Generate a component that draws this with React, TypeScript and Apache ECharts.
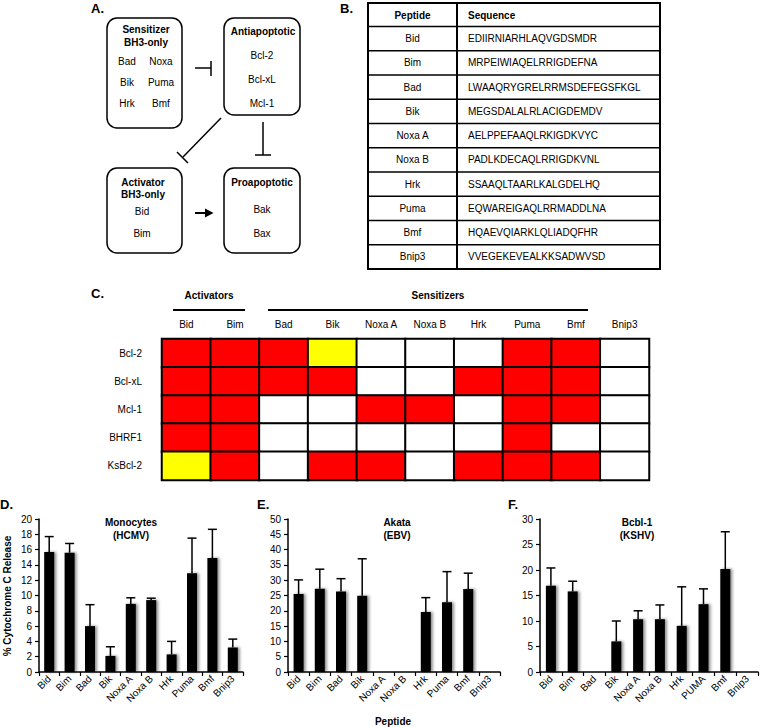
import React, { useEffect, useRef } from "react";
import * as echarts from "echarts";

const FONT = '"Liberation Sans", Arial, Helvetica, sans-serif';

// ---- Panel B table ----
const peptides = ["Bid", "Bim", "Bad", "Bik", "Noxa A", "Noxa B", "Hrk", "Puma", "Bmf", "Bnip3"];
const sequences = [
  "EDIIRNIARHLAQVGDSMDR",
  "MRPEIWIAQELRRIGDEFNA",
  "LWAAQRYGRELRRMSDEFEGSFKGL",
  "MEGSDALALRLACIGDEMDV",
  "AELPPEFAAQLRKIGDKVYC",
  "PADLKDECAQLRRIGDKVNL",
  "SSAAQLTAARLKALGDELHQ",
  "EQWAREIGAQLRRMADDLNA",
  "HQAEVQIARKLQLIADQFHR",
  "VVEGEKEVEALKKSADWVSD",
];

// ---- Panel C heatmap (0 = no binding, 1 = binding, 2 = weak) ----
const hmCols = ["Bid", "Bim", "Bad", "Bik", "Noxa A", "Noxa B", "Hrk", "Puma", "Bmf", "Bnip3"];
const hmRows = ["Bcl-2", "Bcl-xL", "Mcl-1", "BHRF1", "KsBcl-2"];
const hmValues = [
  [1, 1, 1, 2, 0, 0, 0, 1, 1, 0],
  [1, 1, 1, 1, 0, 0, 1, 1, 1, 0],
  [1, 1, 0, 0, 1, 1, 0, 1, 1, 0],
  [1, 1, 0, 0, 0, 0, 0, 1, 0, 0],
  [2, 1, 0, 1, 1, 0, 1, 1, 1, 0],
];

// ---- Panels D, E, F ----
const dCats = ["Bid", "Bim", "Bad", "Bik", "Noxa A", "Noxa B", "Hrk", "Puma", "Bmf", "Bnip3"];
const dMean = [15.7, 15.6, 6.0, 2.1, 8.9, 9.4, 2.3, 12.9, 14.9, 3.2];
const dErr = [2.0, 1.2, 2.8, 1.2, 0.8, 0.25, 1.7, 4.6, 3.75, 1.1];

const eCats = ["Bid", "Bim", "Bad", "Bik", "Noxa A", "Noxa B", "Hrk", "Puma", "Bmf", "Bnip3"];
const eMean = [25.5, 27.2, 26.3, 24.9, 0, 0, 19.6, 22.8, 27.1, 0];
const eErr = [4.6, 6.4, 4.2, 12.1, 0, 0, 4.7, 10.0, 5.2, 0];

const fCats = ["Bid", "Bim", "Bad", "Bik", "Noxa A", "Noxa B", "Hrk", "PUMA", "Bmf", "Bnip3"];
const fMean = [16.9, 15.8, 0, 6.0, 10.35, 10.35, 9.05, 13.3, 20.2, 0];
const fErr = [3.5, 2.0, 0, 4.0, 1.65, 2.8, 7.65, 3.0, 7.3, 0];

const yMax = [20, 50, 30];
const yInterval = [2, 5, 5];

function txt(text: string, x: number, y: number, o: any = {}) {
  return {
    type: "text",
    x,
    y,
    rotation: o.rot || 0,
    silent: true,
    style: {
      text,
      fill: "#000",
      fontSize: o.size || 10,
      fontWeight: o.bold ? "bold" : "normal",
      fontFamily: FONT,
      align: o.align || "center",
      verticalAlign: "middle",
      textAlign: o.align || "center",
      textVerticalAlign: "middle",
    },
  };
}
function ln(x1: number, y1: number, x2: number, y2: number, w = 1.5) {
  return { type: "line", silent: true, shape: { x1, y1, x2, y2 }, style: { stroke: "#000", lineWidth: w } };
}
function box(x: number, y: number, w: number, h: number, r = 0, lw = 1.5) {
  return {
    type: "rect",
    silent: true,
    shape: { x, y, width: w, height: h, r },
    style: { fill: "none", stroke: "#000", lineWidth: lw },
  };
}

export default function App() {
  const ref = useRef<HTMLDivElement>(null);
  useEffect(() => {
    if (!ref.current) return;
    const chart = echarts.init(ref.current, null, { renderer: "svg" });

    // ----- graphics: panel A -----
    const g: any[] = [];
    g.push(txt("A.", 91, 8, { bold: true, size: 13, align: "left" }));
    g.push(box(107, 18, 75, 110, 10));
    g.push(txt("Sensitizer", 146, 29, { bold: true }));
    g.push(txt("BH3-only", 146, 42, { bold: true }));
    g.push(txt("Bad", 127, 61));
    g.push(txt("Noxa", 161, 61));
    g.push(txt("Bik", 127, 82));
    g.push(txt("Puma", 161, 82));
    g.push(txt("Hrk", 127, 103));
    g.push(txt("Bmf", 161, 103));
    g.push(ln(195, 68, 211, 68));
    g.push(ln(211, 61, 211, 76));
    g.push(box(224, 18, 76, 97, 10));
    g.push(txt("Antiapoptotic", 263, 31, { bold: true }));
    g.push(txt("Bcl-2", 262, 55));
    g.push(txt("Bcl-xL", 262, 79));
    g.push(txt("Mcl-1", 262, 103));
    g.push(ln(263, 122, 263, 155));
    g.push(ln(255, 155, 271, 155));
    g.push(ln(221, 118, 183, 157));
    g.push(ln(177, 152, 188, 163));
    g.push(box(107, 168, 75, 85, 10));
    g.push(txt("Activator", 143, 182, { bold: true }));
    g.push(txt("BH3-only", 143, 194, { bold: true }));
    g.push(txt("Bid", 142, 211));
    g.push(txt("Bim", 142, 233));
    g.push(ln(195, 213, 207, 213, 2));
    g.push({
      type: "polygon",
      silent: true,
      shape: { points: [[205, 208.5], [213.5, 213], [205, 217.5]] },
      style: { fill: "#000" },
    });
    g.push(box(224, 168, 76, 85, 10));
    g.push(txt("Proapoptotic", 262, 182, { bold: true }));
    g.push(txt("Bak", 262, 209));
    g.push(txt("Bax", 262, 233));

    // ----- panel B table -----
    const tL = 368, tD = 457, tR = 660, tTop = 3, tHead = 26.5, rowH = 24.25;
    const tBot = tHead + rowH * peptides.length;
    g.push(txt("B.", 340, 8, { bold: true, size: 13, align: "left" }));
    g.push(box(tL, tTop, tR - tL, tBot - tTop, 0, 2));
    g.push(ln(tD, tTop, tD, tBot, 2));
    for (let i = 0; i < peptides.length; i++) {
      g.push(ln(tL, tHead + rowH * i, tR, tHead + rowH * i, 1.5));
    }
    g.push(txt("Peptide", (tL + tD) / 2, (tTop + tHead) / 2 + 1, { bold: true }));
    g.push(txt("Sequence", 468, (tTop + tHead) / 2 + 1, { bold: true, align: "left" }));
    peptides.forEach((p, i) => {
      const cy = tHead + rowH * (i + 0.5);
      g.push(txt(p, (tL + tD) / 2, cy));
      g.push(txt(sequences[i], 468, cy, { align: "left" }));
    });

    // ----- panel C headers -----
    g.push(txt("C.", 91, 293, { bold: true, size: 13, align: "left" }));
    g.push(txt("Activators", 209, 295, { bold: true }));
    g.push(txt("Sensitizers", 438, 295, { bold: true }));
    g.push(ln(173, 310, 245, 310, 2));
    g.push(ln(268, 310, 588, 310, 2));

    // ----- panels D, E, F labels -----
    g.push(txt("D.", 0, 504, { bold: true, size: 13, align: "left" }));
    g.push(txt("E.", 257, 504, { bold: true, size: 13, align: "left" }));
    g.push(txt("F.", 508, 504, { bold: true, size: 13, align: "left" }));
    g.push(txt("Monocytes", 131, 522, { bold: true }));
    g.push(txt("(HCMV)", 131, 535, { bold: true }));
    g.push(txt("Akata", 397, 522, { bold: true }));
    g.push(txt("(EBV)", 397, 535, { bold: true }));
    g.push(txt("Bcbl-1", 637, 522, { bold: true }));
    g.push(txt("(KSHV)", 637, 535, { bold: true }));
    g.push(txt("% Cytochrome C Release", 7, 596, { bold: true, rot: Math.PI / 2 }));
    g.push(txt("Peptide", 393, 721, { bold: true }));

    const grids = [
      { left: 39, top: 519, width: 204, height: 153 },
      { left: 288, top: 519, width: 212, height: 153 },
      { left: 540, top: 519, width: 218, height: 153 },
      { left: 162, top: 339, width: 487, height: 141 },
    ].map((gr) => ({ ...gr, containLabel: false, outerBoundsMode: "none" }));

    const cats = [dCats, eCats, fCats];
    const means = [dMean, eMean, fMean];
    const errs = [dErr, eErr, fErr];

    const xAxes: any[] = cats.map((c, i) => ({
      type: "category",
      gridIndex: i,
      data: c,
      axisLine: { show: true, lineStyle: { color: "#000", width: 1.5 } },
      axisTick: { show: true, length: 4, lineStyle: { color: "#000", width: 1.2 } },
      axisLabel: { interval: 0, rotate: 45, fontSize: 10, color: "#000", fontFamily: FONT, margin: 5 },
      splitLine: { show: false },
    }));
    const yAxes: any[] = cats.map((_c, i) => ({
      type: "value",
      gridIndex: i,
      min: 0,
      max: yMax[i],
      interval: yInterval[i],
      axisLine: { show: true, lineStyle: { color: "#000", width: 1.5 } },
      axisTick: { show: true, length: 4, lineStyle: { color: "#000", width: 1.2 } },
      axisLabel: { fontSize: 10, color: "#000", fontFamily: FONT, margin: 7 },
      splitLine: { show: false },
    }));
    xAxes.push({
      type: "category",
      gridIndex: 3,
      position: "top",
      data: hmCols,
      axisLine: { show: false },
      axisTick: { show: false },
      axisLabel: { fontSize: 10, color: "#000", fontFamily: FONT, margin: 10, interval: 0 },
      splitLine: { show: false },
    });
    yAxes.push({
      type: "category",
      gridIndex: 3,
      data: hmRows,
      inverse: true,
      axisLine: { show: false },
      axisTick: { show: false },
      axisLabel: { fontSize: 10, color: "#000", fontFamily: FONT, margin: 20 },
      splitLine: { show: false },
    });

    const series: any[] = [];
    cats.forEach((_c, i) => {
      series.push({
        type: "bar",
        xAxisIndex: i,
        yAxisIndex: i,
        data: means[i],
        barWidth: 10,
        silent: true,
        itemStyle: {
          color: "#000",
          shadowBlur: 3,
          shadowColor: "rgba(0,0,0,0.45)",
          shadowOffsetX: 2,
          shadowOffsetY: 0,
        },
      });
      const ed = means[i]
        .map((m, k) => [k, m + errs[i][k], m])
        .filter((d) => d[2] > 0);
      series.push({
        type: "custom",
        xAxisIndex: i,
        yAxisIndex: i,
        data: ed,
        silent: true,
        z: 3,
        encode: { x: 0, y: 1 },
        renderItem: (_p: any, api: any) => {
          const idx = api.value(0);
          const p0 = api.coord([idx, api.value(2)]);
          const p1 = api.coord([idx, api.value(1)]);
          return {
            type: "group",
            children: [
              { type: "line", shape: { x1: p0[0], y1: p0[1], x2: p1[0], y2: p1[1] }, style: { stroke: "#000", lineWidth: 1.5 } },
              { type: "line", shape: { x1: p1[0] - 4.5, y1: p1[1], x2: p1[0] + 4.5, y2: p1[1] }, style: { stroke: "#000", lineWidth: 1.5 } },
            ],
          };
        },
      });
    });

    const hmData: number[][] = [];
    hmValues.forEach((row, r) => row.forEach((v, c) => hmData.push([c, r, v])));
    series.push({
      type: "heatmap",
      xAxisIndex: 3,
      yAxisIndex: 3,
      data: hmData,
      silent: true,
      itemStyle: { borderColor: "#000", borderWidth: 2 },
      emphasis: { disabled: true },
    });

    chart.setOption({
      animation: false,
      backgroundColor: "#fff",
      textStyle: { fontFamily: FONT },
      grid: grids,
      xAxis: xAxes,
      yAxis: yAxes,
      visualMap: {
        type: "piecewise",
        show: false,
        seriesIndex: 6,
        dimension: 2,
        pieces: [
          { value: 0, color: "#ffffff" },
          { value: 1, color: "#ff0000" },
          { value: 2, color: "#ffff00" },
        ],
      },
      series,
      graphic: { elements: g },
    });
    return () => chart.dispose();
  }, []);
  return <div ref={ref} style={{ position: "absolute", left: 0, top: 0, width: 760, height: 727 }} />;
}
